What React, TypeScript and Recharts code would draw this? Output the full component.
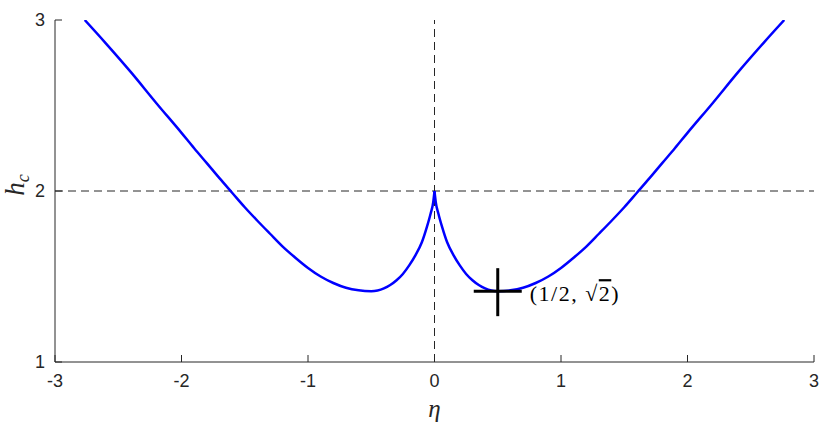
import { ComposedChart, Line, XAxis, YAxis, ReferenceLine, ReferenceDot } from 'recharts';

// η values and critical field h_c (left branch η<=0, right branch η>=0)
const etaLeft = [
  -2.765, -2.6, -2.4, -2.2, -2.0, -1.9, -1.8, -1.7, -1.6, -1.5, -1.4, -1.3, -1.2, -1.1, -1.0,
  -0.9, -0.8, -0.7, -0.6, -0.5, -0.45, -0.4, -0.35, -0.3, -0.25, -0.2, -0.15, -0.1, -0.06,
  -0.03, -0.01, 0,
];
const hcLeft = [
  3.0, 2.865, 2.695, 2.515, 2.34, 2.25, 2.163, 2.075, 1.99, 1.905, 1.826, 1.75, 1.675, 1.61, 1.55,
  1.50, 1.462, 1.434, 1.419, 1.414, 1.418, 1.43, 1.45, 1.478, 1.515, 1.565, 1.625, 1.70, 1.79,
  1.87, 1.935, 2.0,
];
const etaRight = [
  0, 0.01, 0.03, 0.06, 0.1, 0.15, 0.2, 0.25, 0.3, 0.35, 0.4, 0.45, 0.5, 0.6, 0.7, 0.8, 0.9,
  1.0, 1.1, 1.2, 1.3, 1.4, 1.5, 1.6, 1.7, 1.8, 1.9, 2.0, 2.2, 2.4, 2.6, 2.765,
];
const hcRight = [
  2.0, 1.935, 1.87, 1.79, 1.70, 1.625, 1.565, 1.515, 1.478, 1.45, 1.43, 1.418, 1.414, 1.419, 1.434, 1.462, 1.50,
  1.55, 1.61, 1.675, 1.75, 1.826, 1.905, 1.99, 2.075, 2.163, 2.25, 2.34, 2.515, 2.695, 2.865, 3.0,
];
const xTicks = [-3, -2, -1, 0, 1, 2, 3];
const yTicks = [1, 2, 3];
const markerEta = 0.5;
const markerHc = 1.4142;

const leftData = etaLeft.map((eta, i) => ({ eta, hc: hcLeft[i] }));
const rightData = etaRight.map((eta, i) => ({ eta, hc: hcRight[i] }));

const AXIS = '#262626';
const SANS = '"Liberation Sans", Arial, Helvetica, sans-serif';
const SERIF = '"Liberation Serif", "Times New Roman", serif';
const TICK_LEN = 7;

const BottomTick = ({ x, y, payload }: any) => (
  <g>
    <line x1={x} x2={x} y1={y} y2={y - TICK_LEN} stroke={AXIS} />
    <text x={x} y={y + 12} dy="0.71em" textAnchor="middle" fontSize={18} fill={AXIS} fontFamily={SANS}>
      {payload.value}
    </text>
  </g>
);

const TopTick = ({ x, y }: any) => <line x1={x} x2={x} y1={y} y2={y + TICK_LEN} stroke={AXIS} />;

const LeftTick = ({ x, y, payload }: any) => (
  <g>
    <line x1={x} x2={x + TICK_LEN} y1={y} y2={y} stroke={AXIS} />
    <text x={x - 10} y={y} dy="0.355em" textAnchor="end" fontSize={18} fill={AXIS} fontFamily={SANS}>
      {payload.value}
    </text>
  </g>
);

const RightTick = ({ x, y }: any) => <line x1={x} x2={x - TICK_LEN} y1={y} y2={y} stroke={AXIS} />;

const EtaLabel = ({ viewBox }: any) => (
  <text
    x={viewBox.x + viewBox.width / 2}
    y={viewBox.y + 55}
    textAnchor="middle"
    fontSize={25}
    fontStyle="italic"
    fontFamily={SERIF}
    fill={AXIS}
  >
    η
  </text>
);

const HcLabel = ({ viewBox }: any) => {
  const cx = 24;
  const cy = viewBox.y + 165;
  return (
    <text
      x={cx}
      y={cy}
      textAnchor="middle"
      transform={`rotate(-90, ${cx}, ${cy})`}
      fontSize={27}
      fontStyle="italic"
      fontFamily={SERIF}
      fill={AXIS}
    >
      h<tspan fontSize={18} dy={5}>c</tspan>
    </text>
  );
};

// crosshair at the minimum with its annotation
const Crosshair = ({ cx, cy }: any) => (
  <g>
    <line x1={cx - 24} x2={cx + 24} y1={cy} y2={cy} stroke="#000" strokeWidth={3} />
    <line x1={cx} x2={cx} y1={cy - 23} y2={cy + 25} stroke="#000" strokeWidth={3} />
    <text x={cx + 32} y={cy + 10} fontSize={22} letterSpacing={1.5} fontFamily={SERIF} fill="#000">
      (1/2,  √<tspan textDecoration="overline">2</tspan>)
    </text>
  </g>
);

export default function App() {
  return (
    <div style={{ position: 'absolute', left: 0, top: 0, background: '#fff' }}>
      <ComposedChart width={822} height={436} margin={{ top: 20, right: 8, bottom: 0, left: 0 }}>
        <XAxis
          dataKey="eta"
          type="number"
          domain={[-3, 3]}
          ticks={xTicks}
          interval={0}
          allowDataOverflow
          height={74}
          tickSize={0}
          tickMargin={0}
          tickLine={false}
          tick={<BottomTick />}
          axisLine={{ stroke: AXIS }}
          label={<EtaLabel />}
        />
        <XAxis
          xAxisId="top"
          orientation="top"
          type="number"
          domain={[-3, 3]}
          ticks={xTicks}
          interval={0}
          allowDataOverflow
          height={0}
          tickSize={0}
          tickMargin={0}
          tickLine={false}
          tick={<TopTick />}
          axisLine={{ stroke: AXIS }}
        />
        <YAxis
          type="number"
          domain={[1, 3]}
          ticks={yTicks}
          interval={0}
          allowDataOverflow
          width={55}
          tickSize={0}
          tickMargin={0}
          tickLine={false}
          tick={<LeftTick />}
          axisLine={{ stroke: AXIS }}
          label={<HcLabel />}
        />
        <YAxis
          yAxisId="right"
          orientation="right"
          type="number"
          domain={[1, 3]}
          ticks={yTicks}
          interval={0}
          allowDataOverflow
          width={0}
          tickSize={0}
          tickMargin={0}
          tickLine={false}
          tick={<RightTick />}
          axisLine={{ stroke: AXIS }}
        />
        <ReferenceLine x={0} stroke={AXIS} strokeDasharray="8 5" />
        <ReferenceLine y={2} stroke={AXIS} strokeDasharray="8 5" />
        <Line
          data={leftData}
          dataKey="hc"
          type="monotone"
          stroke="#0000ff"
          strokeWidth={2.5}
          dot={false}
          isAnimationActive={false}
        />
        <Line
          data={rightData}
          dataKey="hc"
          type="monotone"
          stroke="#0000ff"
          strokeWidth={2.5}
          dot={false}
          isAnimationActive={false}
        />
        <ReferenceDot x={markerEta} y={markerHc} shape={<Crosshair />} />
      </ComposedChart>
    </div>
  );
}
